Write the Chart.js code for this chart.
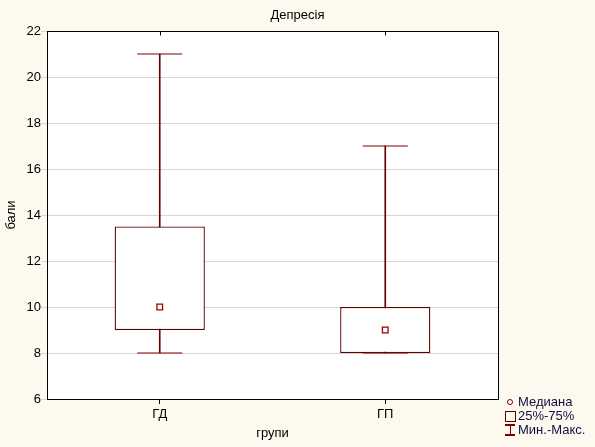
<!DOCTYPE html>
<html>
<head>
<meta charset="utf-8">
<script src="https://cdn.jsdelivr.net/npm/chart.js@4"></script>
<style>
  html, body { margin: 0; padding: 0; background: #fdf9ee; }
  #wrap { position: relative; width: 595px; height: 447px; background: #fdf9ee; overflow: hidden; }
  #title { position: absolute; left: 0; top: 7px; width: 595px; text-align: center;
           font: 13px "Liberation Sans", Arial, sans-serif; color: #000; line-height: 16px; }
  .leg { position: absolute; left: 518px; font: 13px "Liberation Sans", Arial, sans-serif;
         color: #101040; line-height: 14px; white-space: nowrap; }
  .sym { position: absolute; box-sizing: border-box; }
</style>
</head>
<body>
<div id="wrap">
  <canvas id="c" width="595" height="447"></canvas>
  <div id="title">Депресія</div>
  <!-- legend -->
  <div class="sym" style="left:507px;top:399px;width:6px;height:6px;border:1.5px solid #800000;border-radius:50%;"></div>
  <div class="leg" style="top:395px;">Медиана</div>
  <div class="sym" style="left:505px;top:411px;width:11px;height:11px;border:1.5px solid #5c0000;"></div>
  <div class="leg" style="top:409px;">25%-75%</div>
  <div class="sym" style="left:505px;top:424px;width:10px;height:1.5px;background:#800000;"></div>
  <div class="sym" style="left:509.5px;top:424px;width:1.5px;height:11px;background:#800000;"></div>
  <div class="sym" style="left:505px;top:434px;width:10px;height:1.5px;background:#800000;"></div>
  <div class="leg" style="top:423px;">Мин.-Макс.</div>
</div>
<script>
const categories = ['ГД', 'ГП'];
const minValues = [8, 8];
const q1Values = [9, 8];
const medianValues = [10, 9];
const q3Values = [13.5, 10];
const maxValues = [21, 17];
const yMin = 6, yMax = 22, yStep = 2;

const FONT = { family: '"Liberation Sans", Arial, sans-serif', size: 13 };

const frame = {
  id: 'frame',
  beforeDraw(chart) {
    const { ctx, chartArea: a } = chart;
    ctx.save();
    ctx.fillStyle = '#ffffff';
    ctx.fillRect(a.left, a.top, a.right - a.left, a.bottom - a.top);
    ctx.restore();
  },
  afterDraw(chart) {
    const { ctx, chartArea: a } = chart;
    const xs = chart.scales.x;
    ctx.save();
    ctx.strokeStyle = '#000';
    ctx.lineWidth = 1;
    const t = Math.round(a.top) + 0.5;
    const r = Math.round(a.right) + 0.5;
    ctx.beginPath();
    ctx.moveTo(a.left, t);
    ctx.lineTo(r, t);
    ctx.lineTo(r, a.bottom + 0.5);
    ctx.stroke();
    // small inside ticks on the top edge at category centres
    categories.forEach((c, i) => {
      const px = Math.round(xs.getPixelForValue(i)) + 0.5;
      ctx.beginPath();
      ctx.moveTo(px, t);
      ctx.lineTo(px, t + 4);
      ctx.stroke();
    });
    ctx.restore();
  }
};

new Chart(document.getElementById('c'), {
  type: 'bar',
  data: {
    labels: categories,
    datasets: [
      {
        type: 'bar',
        label: 'whisker',
        data: categories.map((c, i) => [minValues[i], maxValues[i]]),
        backgroundColor: '#6a0000',
        borderWidth: 0,
        barThickness: 1,
        grouped: false,
        order: 4
      },
      {
        type: 'bar',
        label: '25%-75%',
        data: categories.map((c, i) => [q1Values[i], q3Values[i]]),
        backgroundColor: '#ffffff',
        borderColor: '#5c0000',
        borderWidth: 1.3,
        borderSkipped: false,
        categoryPercentage: 1,
        barPercentage: 0.4,
        grouped: false,
        order: 3
      },
      {
        type: 'line',
        label: 'max',
        data: maxValues,
        showLine: false,
        pointStyle: 'line',
        pointRadius: 22.5,
        pointHoverRadius: 22.5,
        pointBorderColor: '#800000',
        pointBorderWidth: 1.2,
        order: 2
      },
      {
        type: 'line',
        label: 'min',
        data: minValues,
        showLine: false,
        pointStyle: 'line',
        pointRadius: 22.5,
        pointHoverRadius: 22.5,
        pointBorderColor: '#800000',
        pointBorderWidth: 1.2,
        order: 2
      },
      {
        type: 'line',
        label: 'Медиана',
        data: medianValues,
        showLine: false,
        pointStyle: 'rect',
        pointRadius: 4,
        pointHoverRadius: 4,
        pointBackgroundColor: '#ffffff',
        pointBorderColor: '#a00000',
        pointBorderWidth: 1.3,
        order: 1
      }
    ]
  },
  options: {
    responsive: false,
    animation: false,
    events: [],
    layout: { padding: { top: 31, right: 97, left: 0, bottom: 0 } },
    plugins: { legend: { display: false }, tooltip: { enabled: false }, title: { display: false } },
    scales: {
      x: {
        offset: true,
        afterFit(s) { s.height = 48; },
        grid: { drawOnChartArea: false, offset: false, tickLength: 5, color: '#000', lineWidth: 1 },
        border: { display: true, color: '#000', width: 1 },
        ticks: { color: '#000', font: FONT, padding: 3, maxRotation: 0 },
        title: { display: true, text: 'групи', color: '#000', font: FONT, padding: { top: 0, bottom: 6 } }
      },
      y: {
        min: yMin, max: yMax,
        afterFit(s) { s.width = 47; },
        grid: { color: '#d6d6d6', lineWidth: 1, tickLength: 6, drawTicks: true },
        border: { display: true, color: '#000', width: 1 },
        ticks: { stepSize: yStep, color: '#000', font: FONT, padding: 0 },
        title: { display: true, text: 'бали', color: '#000', font: FONT, padding: { top: 4, bottom: 0 } }
      }
    }
  },
  plugins: [frame]
});
</script>
</body>
</html>
